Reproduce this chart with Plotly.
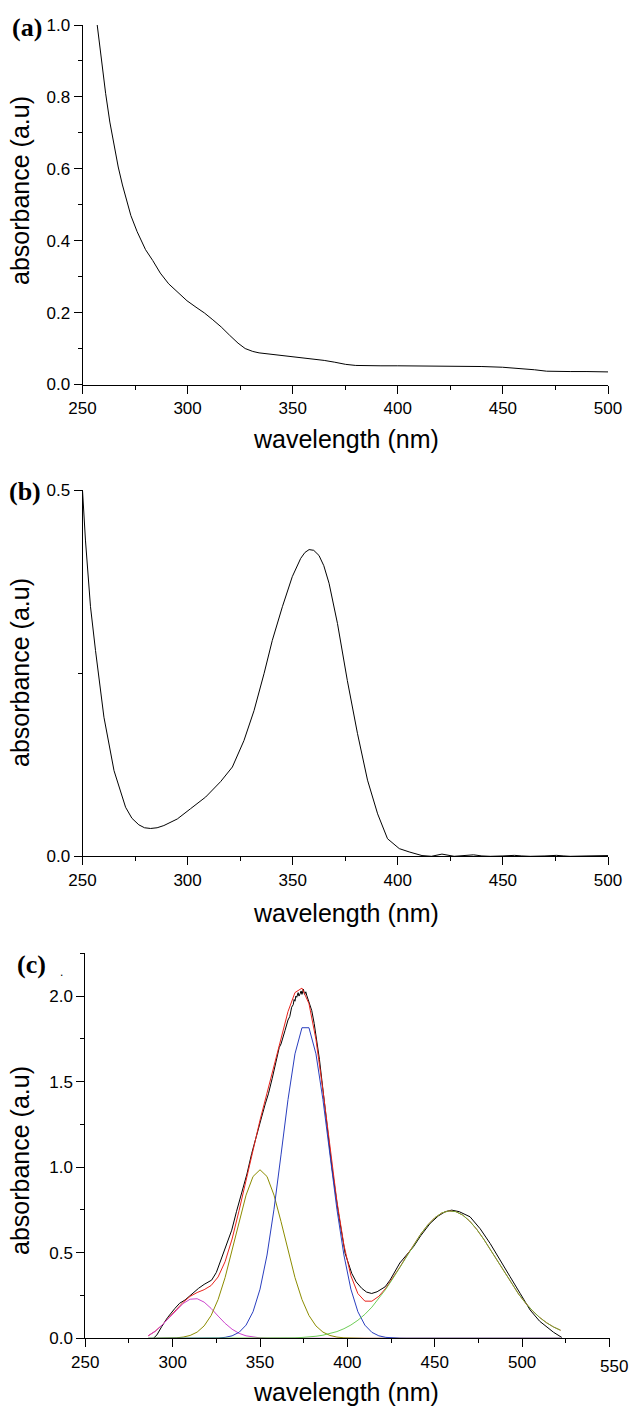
import plotly.graph_objects as go

# ---------------- data ----------------
# panel (a)
a_wl = [257, 259, 261, 263, 265, 267, 269, 271, 273, 276, 280, 283.4, 287, 291, 295, 299.7,
        304, 308, 312, 316, 320, 324, 327.4, 331, 334, 337, 341, 345, 350.3, 355, 360,
        365, 370, 375.2, 380, 385, 392, 400, 410, 420, 430, 440, 449.8, 455, 459.3, 465,
        470.8, 476, 482, 490, 500]
a_abs = [1.0, 0.90, 0.81, 0.73, 0.665, 0.605, 0.555, 0.51, 0.47, 0.425, 0.375, 0.345, 0.31,
         0.28, 0.258, 0.233, 0.215, 0.199, 0.18, 0.16, 0.137, 0.115, 0.10, 0.092, 0.088,
         0.086, 0.083, 0.081, 0.078, 0.075, 0.071, 0.067, 0.062, 0.056, 0.053, 0.052, 0.052,
         0.052, 0.052, 0.051, 0.050, 0.050, 0.048, 0.046, 0.044, 0.041, 0.037, 0.036, 0.036,
         0.036, 0.035]

# panel (b)
b_wl = [250, 251.4, 253.8, 256.2, 260.2, 265, 270.5, 273.5, 276.8, 279.5, 282.4, 285.5,
        288.7, 295.1, 301.4, 308.6, 315.7, 321.3, 326.8, 331.6, 336.4, 340.3, 345.1, 349.8,
        353.8, 355.8, 357.8, 360, 362.5, 364.8, 367.3, 371.3, 376, 380.8, 385.6, 390.4,
        395.1, 400.7, 405.4, 411.5, 416, 421, 426.8, 431, 436, 440, 444, 450, 455.5, 459,
        463, 470, 475.5, 479, 482, 490, 500]
b_abs = [0.5, 0.432, 0.341, 0.281, 0.19, 0.117, 0.067, 0.052, 0.043, 0.039, 0.038, 0.039,
         0.042, 0.051, 0.065, 0.081, 0.102, 0.122, 0.158, 0.199, 0.25, 0.295, 0.341, 0.382,
         0.407, 0.415, 0.419, 0.418, 0.411, 0.397, 0.373, 0.318, 0.24, 0.168, 0.104, 0.058,
         0.024, 0.0105, 0.006, 0.001, 0.0, 0.003, 0.0, 0.0005, 0.002, 0.0005, 0.0, 0.0005,
         0.0013, 0.0005, 0.0, 0.0005, 0.0013, 0.0005, 0.0, 0.0005, 0.001]

# panel (c) measured spectrum
c_wl_meas = [289, 291, 293.7, 297, 301.3, 304, 307.1, 311, 314.8, 318, 322.3, 325, 328.1, 331,
             333.8, 336.5, 339.5, 342.5, 345.2, 348, 350.9, 353, 354.8, 357, 359.5, 361, 362,
             363, 364.3, 366, 367, 368.1, 369, 369.5, 370, 370.5, 371, 371.8, 372.3, 372.9,
             373.5, 374, 374.8, 375.5, 376.2, 376.7, 378, 379.6, 381, 382.5, 384, 385.4,
             388.2, 391.1, 394.9, 398.7, 402.5, 405, 408.2, 411, 413.9, 417, 421.6, 424.4,
             430, 437.8, 442, 447.3, 452, 456, 459.7, 464, 470.2, 476, 481.7, 487, 493.1,
             499, 504.6, 510, 514.1, 518, 522.7]
c_abs_meas = [0.0, 0.02, 0.068, 0.12, 0.175, 0.205, 0.224, 0.26, 0.292, 0.315, 0.34, 0.385,
              0.476, 0.55, 0.632, 0.74, 0.846, 0.96, 1.079, 1.19, 1.293, 1.37, 1.429, 1.52,
              1.643, 1.70, 1.72, 1.76, 1.799, 1.86, 1.88, 1.935, 1.95, 1.98, 1.97, 2.00, 1.993,
              2.02, 2.0, 2.013, 2.03, 2.01, 2.04, 2.01, 2.025, 2.005, 1.97, 1.915, 1.84, 1.74,
              1.63, 1.507, 1.254, 1.001, 0.729, 0.496, 0.379, 0.33, 0.292, 0.27, 0.262, 0.272,
              0.301, 0.34, 0.44, 0.535, 0.60, 0.671, 0.715, 0.74, 0.749, 0.74, 0.71, 0.64,
              0.554, 0.46, 0.36, 0.26, 0.165, 0.10, 0.068, 0.035, 0.005]

# panel (c) fitted curves on a common wavelength grid
c_wl_fit = [286, 290, 294, 298, 302, 306, 310, 314, 318, 322, 326, 330, 334, 338, 342, 346,
            350, 354, 358, 362, 366, 370, 374, 378, 382, 386, 390, 394, 398, 402, 406, 410,
            414, 418, 422, 426, 430, 434, 438, 442, 446, 450, 454, 458, 462, 466, 470, 474,
            478, 482, 486, 490, 494, 498, 502, 506, 510, 514, 518, 522]
c_fit_sum = [0.0146, 0.0412, 0.0782, 0.1199, 0.1665, 0.2106, 0.2450, 0.2674, 0.2840, 0.3085,
             0.3585, 0.4479, 0.5803, 0.7463, 0.9281, 1.1074, 1.275, 1.4333, 1.592, 1.7553,
             1.9093, 2.0205, 2.0465, 1.956, 1.7468, 1.4491, 1.1155, 0.8008, 0.5452, 0.3658,
             0.2611, 0.2172, 0.2168, 0.2457, 0.2928, 0.351, 0.4155, 0.4824, 0.5481, 0.6092,
             0.6623, 0.7042, 0.7322, 0.7445, 0.7404, 0.7201, 0.6848, 0.6370, 0.5795, 0.5155,
             0.4485, 0.3816, 0.3175, 0.2584, 0.2057, 0.1601, 0.1218, 0.0907, 0.0660, 0.0470]
c_peak1 = [0.0146, 0.0411, 0.0779, 0.1189, 0.1637, 0.2035, 0.2284, 0.2313, 0.2115, 0.1746,
           0.1300, 0.0874, 0.0531, 0.0291, 0.0144, 0.0064, 0.0026, 0.0009, 0.0003, 0.0001,
           0, 0, 0, 0, 0, 0, 0, 0, 0, 0, 0, 0, 0, 0, 0, 0, 0, 0, 0, 0, 0, 0, 0, 0, 0, 0, 0,
           0, 0, 0, 0, 0, 0, 0, 0, 0, 0, 0, 0, 0]
c_peak2 = [0, 0.0001, 0.0003, 0.001, 0.0028, 0.0071, 0.0166, 0.0361, 0.0723, 0.1333, 0.2266,
           0.355, 0.5127, 0.6823, 0.8367, 0.9456, 0.985, 0.9456, 0.8367, 0.6823, 0.5127,
           0.355, 0.2266, 0.1333, 0.0723, 0.0361, 0.0166, 0.0071, 0.0028, 0.001, 0.0003,
           0.0001, 0, 0, 0, 0, 0, 0, 0, 0, 0, 0, 0, 0, 0, 0, 0, 0, 0, 0, 0, 0, 0, 0, 0, 0,
           0, 0, 0, 0]
c_peak3 = [0, 0, 0, 0, 0, 0, 0, 0, 0.0002, 0.0006, 0.0019, 0.0055, 0.0145, 0.0349, 0.0770,
           0.1554, 0.2872, 0.4865, 0.7544, 1.0718, 1.3948, 1.6625, 1.815, 1.815, 1.6625,
           1.3948, 1.0718, 0.7544, 0.4865, 0.2872, 0.1554, 0.0770, 0.0349, 0.0145, 0.0055,
           0.0019, 0.0006, 0.0002, 0, 0, 0, 0, 0, 0, 0, 0, 0, 0, 0, 0, 0, 0, 0, 0, 0, 0, 0,
           0, 0, 0]
c_peak4 = [0, 0, 0, 0, 0, 0, 0, 0, 0, 0, 0, 0, 0, 0, 0, 0, 0.0002, 0.0003, 0.0006, 0.0011,
           0.0018, 0.0030, 0.0049, 0.0077, 0.0120, 0.0182, 0.0271, 0.0393, 0.0559, 0.0776,
           0.1054, 0.1401, 0.1819, 0.2312, 0.2873, 0.3491, 0.4149, 0.4822, 0.5481, 0.6092,
           0.6623, 0.7042, 0.7322, 0.7445, 0.7404, 0.7201, 0.6848, 0.6370, 0.5795, 0.5155,
           0.4485, 0.3816, 0.3175, 0.2584, 0.2057, 0.1601, 0.1218, 0.0907, 0.0660, 0.0470]

# ticks
a_yticks = [0.0, 0.2, 0.4, 0.6, 0.8, 1.0]
b_yticks = [0.0, 0.5]
c_yticks = [0.0, 0.5, 1.0, 1.5, 2.0]
ab_xticks = [250, 300, 350, 400, 450, 500]
c_xticks = [250, 300, 350, 400, 450, 500, 550]
c_xticklabels = ["250", "300", "350", "400", "450", "500", ""]  # "550" set slightly offset

# ---------------- layout helpers ----------------
W, H = 630, 1407
SANS = "Liberation Sans, Arial, Helvetica, sans-serif"
SERIF = "Liberation Serif, Times New Roman, serif"
TICK_FONT = dict(family=SANS, size=17, color="black")


def px_x(x):
    return x / W


def px_y(y):
    return 1 - y / H


def axis_common(rng, tickvals, minor_dtick, fmt=None, ticktext=None):
    d = dict(range=rng, tickmode="array", tickvals=tickvals, showline=True,
             linecolor="black", linewidth=1, ticks="outside", ticklen=8, tickwidth=1,
             tickcolor="black", showgrid=False, zeroline=False, tickfont=TICK_FONT,
             automargin=False,
             minor=dict(ticks="outside", ticklen=4, tickwidth=1, tickcolor="black",
                        dtick=minor_dtick, tick0=0, showgrid=False),
             fixedrange=True)
    if fmt:
        d["tickformat"] = fmt
    if ticktext:
        d["ticktext"] = ticktext
    return d


fig = go.Figure()

line_k = dict(color="black", width=1)
fig.add_trace(go.Scatter(x=a_wl, y=a_abs, mode="lines", line=line_k, xaxis="x", yaxis="y"))
fig.add_trace(go.Scatter(x=b_wl, y=b_abs, mode="lines", line=line_k, xaxis="x2", yaxis="y2"))
fig.add_trace(go.Scatter(x=c_wl_meas, y=c_abs_meas, mode="lines", line=line_k,
                         xaxis="x3", yaxis="y3"))
fig.add_trace(go.Scatter(x=c_wl_fit, y=c_fit_sum, mode="lines",
                         line=dict(color="#e8231c", width=1), xaxis="x3", yaxis="y3"))
fig.add_trace(go.Scatter(x=c_wl_fit, y=c_peak1, mode="lines",
                         line=dict(color="#cc44cc", width=1), xaxis="x3", yaxis="y3"))
fig.add_trace(go.Scatter(x=c_wl_fit, y=c_peak2, mode="lines",
                         line=dict(color="#8c8c00", width=1), xaxis="x3", yaxis="y3"))
fig.add_trace(go.Scatter(x=c_wl_fit, y=c_peak3, mode="lines",
                         line=dict(color="#2a3fbf", width=1), xaxis="x3", yaxis="y3"))
fig.add_trace(go.Scatter(x=c_wl_fit, y=c_peak4, mode="lines",
                         line=dict(color="#55c43a", width=1), opacity=0.85,
                         xaxis="x3", yaxis="y3"))

ab_dom_x = [px_x(82.5), px_x(608)]
c_dom_x = [px_x(85.3), px_x(609.5)]

fig.update_layout(
    width=W, height=H, margin=dict(l=0, r=0, t=0, b=0, autoexpand=False),
    paper_bgcolor="white", plot_bgcolor="white", showlegend=False,
    xaxis=dict(domain=ab_dom_x, anchor="y", **axis_common([250, 500], ab_xticks, 25)),
    yaxis=dict(domain=[px_y(384.5), px_y(25)], anchor="x",
               **axis_common([0, 1.0], a_yticks, 0.1, ".1f")),
    xaxis2=dict(domain=ab_dom_x, anchor="y2", **axis_common([250, 500], ab_xticks, 25)),
    yaxis2=dict(domain=[px_y(856.3), px_y(490.3)], anchor="x2",
                **axis_common([0, 0.5], b_yticks, 0.25, ".1f")),
    xaxis3=dict(domain=c_dom_x, anchor="y3",
                **axis_common([250, 550], c_xticks, 25, ticktext=c_xticklabels)),
    yaxis3=dict(domain=[px_y(1338.3), px_y(953.3)], anchor="x3",
                **axis_common([0, 2.25], c_yticks, 0.25, ".1f")),
)

TITLE_FONT = dict(family=SANS, size=25, color="black")
annotations = []
# x-axis titles
for yc in (439, 913, 1392):
    annotations.append(dict(text="wavelength (nm)", x=px_x(346), y=px_y(yc), xref="paper",
                            yref="paper", showarrow=False, xanchor="center", yanchor="middle",
                            font=TITLE_FONT))
# y-axis titles
for yc in (191, 673, 1161):
    annotations.append(dict(text="absorbance (a.u)", x=px_x(20), y=px_y(yc), xref="paper",
                            yref="paper", showarrow=False, xanchor="center", yanchor="middle",
                            textangle=-90, font=TITLE_FONT))
# the last x tick label of panel (c), drawn slightly lower and to the right as in the source
annotations.append(dict(text="550", x=550, xref="x3", y=px_y(1366), yref="paper",
                        xshift=4, showarrow=False, xanchor="center", yanchor="middle",
                        font=TICK_FONT))
# panel labels
LBL_FONT = dict(family=SERIF, size=26, color="black")
for txt, xc, yc in (("<b>(a)</b>", 27, 27), ("<b>(b)</b>", 25, 492), ("<b>(c)</b>", 31, 964)):
    annotations.append(dict(text=txt, x=px_x(xc), y=px_y(yc), xref="paper", yref="paper",
                            showarrow=False, xanchor="center", yanchor="middle",
                            font=LBL_FONT))
annotations.append(dict(text=".", x=px_x(61), y=px_y(972), xref="paper", yref="paper",
                        showarrow=False, xanchor="center", yanchor="middle",
                        font=dict(family=SANS, size=12, color="black")))
fig.update_layout(annotations=annotations)

fig.write_html("out.html", config={"displayModeBar": False, "staticPlot": True})
